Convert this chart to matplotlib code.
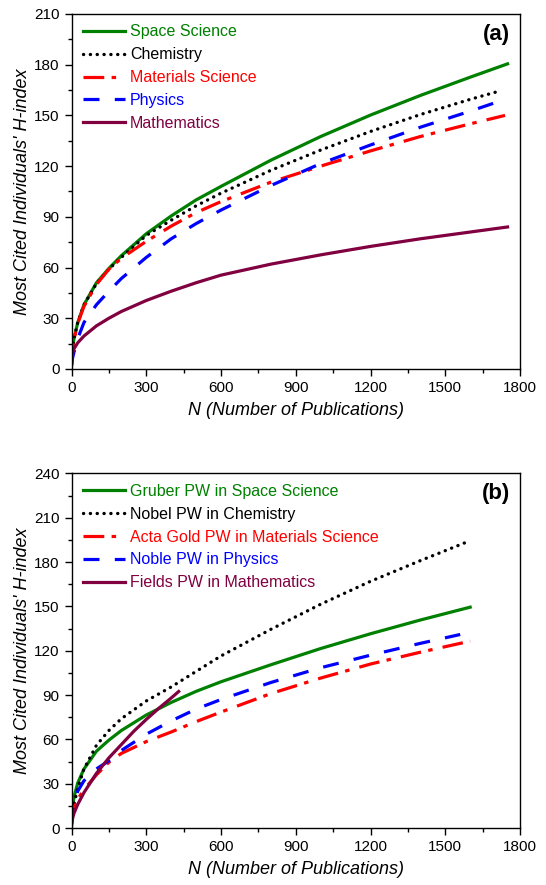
import matplotlib
matplotlib.use('Agg')
import matplotlib.pyplot as plt
from matplotlib.ticker import MultipleLocator

plt.rcParams['font.family'] = ['Liberation Sans', 'DejaVu Sans']

# ---- panel (a): most cited individuals by field ----
n_space = [0, 2, 5, 10, 25, 50, 100, 150, 200, 300, 400, 500, 600, 800, 1000, 1200, 1400, 1600, 1750]
h_space = [3, 9, 13, 18, 27.5, 38, 51, 59.5, 67, 80, 90.5, 100, 108, 123.5, 137.5, 150.2, 161.8, 172.6, 180.5]

n_chem = [0, 2, 5, 10, 25, 50, 100, 150, 200, 300, 400, 500, 600, 800, 1000, 1200, 1400, 1600, 1720]
h_chem = [3, 9, 13, 18, 27.5, 38, 50.5, 59, 66, 79, 88, 96.5, 104, 117.5, 129.5, 140.5, 150.5, 159.5, 164.5]

n_mat = [0, 2, 5, 10, 25, 50, 100, 150, 200, 300, 400, 500, 600, 800, 1000, 1200, 1400, 1600, 1740]
h_mat = [3, 9, 13, 17.5, 27, 37, 50, 59, 65.5, 75.5, 84.5, 92.5, 99, 110.5, 120, 129, 137.5, 145, 150]

n_phys = [0, 2, 5, 10, 25, 50, 100, 150, 200, 300, 400, 500, 600, 800, 1000, 1200, 1400, 1600, 1700]
h_phys = [2, 4.5, 7, 10, 18, 27.5, 38, 46, 53.5, 66, 77, 86, 94, 108.5, 121.5, 132.5, 143, 152.5, 157.5]

n_math = [0, 2, 5, 10, 25, 50, 100, 150, 200, 300, 400, 500, 600, 800, 1000, 1200, 1400, 1600, 1750]
h_math = [2, 6.5, 9.5, 12, 15.5, 19.5, 25.5, 30, 34, 40.5, 46, 51, 55.5, 62, 67.5, 72.5, 77, 81, 84]

# ---- panel (b): prize winners ----
n_gruber = [0, 2, 5, 10, 25, 50, 100, 150, 200, 300, 400, 500, 600, 800, 1000, 1200, 1400, 1600]
h_gruber = [4, 11, 15.5, 21, 30.5, 40, 52, 59.5, 66, 76.5, 85, 92.5, 99, 110.5, 121.5, 131.5, 140.8, 149.5]

n_nobel = [0, 2, 5, 10, 25, 50, 100, 150, 200, 300, 400, 500, 600, 800, 1000, 1200, 1400, 1600]
h_nobel = [3, 7, 11, 16, 27, 40, 56, 66, 74, 86, 95.5, 106, 116.5, 134.5, 151.5, 167, 181, 194.5]

n_acta = [0, 5, 10, 25, 50, 100, 150, 200, 300, 400, 500, 600, 800, 1000, 1200, 1400, 1600]
h_acta = [3, 9, 13, 19.5, 26, 36, 44.5, 50.5, 58.5, 65, 72, 78.5, 91, 101.5, 111, 119, 126.5]

n_noble = [0, 2, 5, 10, 25, 50, 100, 150, 200, 300, 400, 500, 600, 800, 1000, 1200, 1400, 1560]
h_noble = [3, 9, 12.5, 17, 25, 32, 40, 45.5, 52.5, 63.5, 72.5, 80.5, 87, 98.5, 108.5, 117, 125, 131]

n_fields = [0, 2, 5, 10, 25, 50, 100, 150, 200, 250, 300, 350, 400, 430]
h_fields = [1, 4, 7, 10, 16, 24, 37, 47.5, 56.5, 65.5, 73.5, 81, 88, 92.4]

labels_a = ['Space Science', 'Chemistry', 'Materials Science', 'Physics', 'Mathematics']
labels_b = ['Gruber PW in Space Science', 'Nobel PW in Chemistry',
            'Acta Gold PW in Materials Science', 'Noble PW in Physics',
            'Fields PW in Mathematics']

green = '#008000'
red = '#ff0000'
blue = '#0000ff'
wine = '#800040'

styles = [
    dict(color=green, lw=2.3, ls='-'),
    dict(color='black', lw=2.4, ls=(0, (0.05, 2.0)), dash_capstyle='round'),
    dict(color=red, lw=2.3, ls=(0, (6.5, 2.3, 1.4, 3.2))),
    dict(color=blue, lw=2.3, ls=(0, (5, 4.8))),
    dict(color=wine, lw=2.3, ls='-'),
]


def style_axes(ax, ymax, label):
    ax.set_xlim(0, 1800)
    ax.set_ylim(0, ymax)
    ax.xaxis.set_major_locator(MultipleLocator(300))
    ax.xaxis.set_minor_locator(MultipleLocator(150))
    ax.yaxis.set_major_locator(MultipleLocator(30))
    ax.yaxis.set_minor_locator(MultipleLocator(15))
    ax.tick_params(which='both', direction='out', top=False, right=False, labelsize=11)
    ax.tick_params(which='major', length=5, width=1)
    ax.tick_params(which='minor', length=3, width=1)
    for s in ax.spines.values():
        s.set_linewidth(1.0)
    ax.set_xlabel('N (Number of Publications)', fontsize=13, style='italic', labelpad=5)
    ax.set_ylabel("Most Cited Individuals' H-index", fontsize=13, style='italic', labelpad=2)
    ax.text(0.978, 0.972, label, transform=ax.transAxes, ha='right', va='top',
            fontsize=16, fontweight='bold')
    ax.legend(loc='upper left', frameon=False, fontsize=11.5, labelcolor='linecolor',
              handlelength=2.65, handletextpad=0.3, labelspacing=0.49,
              borderaxespad=0.3, bbox_to_anchor=(0.0, 1.002))


fig = plt.figure(figsize=(5.46, 8.85), dpi=100)
ax1 = fig.add_axes([0.131, 0.5831, 0.8214, 0.4011])
ax2 = fig.add_axes([0.131, 0.0644, 0.8214, 0.4006])

series_a = [(n_space, h_space), (n_chem, h_chem), (n_mat, h_mat), (n_phys, h_phys), (n_math, h_math)]
for (x, y), lab, st in zip(series_a, labels_a, styles):
    ax1.plot(x, y, label=lab, **st)
style_axes(ax1, 210, '(a)')

series_b = [(n_gruber, h_gruber), (n_nobel, h_nobel), (n_acta, h_acta), (n_noble, h_noble), (n_fields, h_fields)]
for (x, y), lab, st in zip(series_b, labels_b, styles):
    ax2.plot(x, y, label=lab, **st)
style_axes(ax2, 240, '(b)')

fig.savefig('out.png', dpi=100)
